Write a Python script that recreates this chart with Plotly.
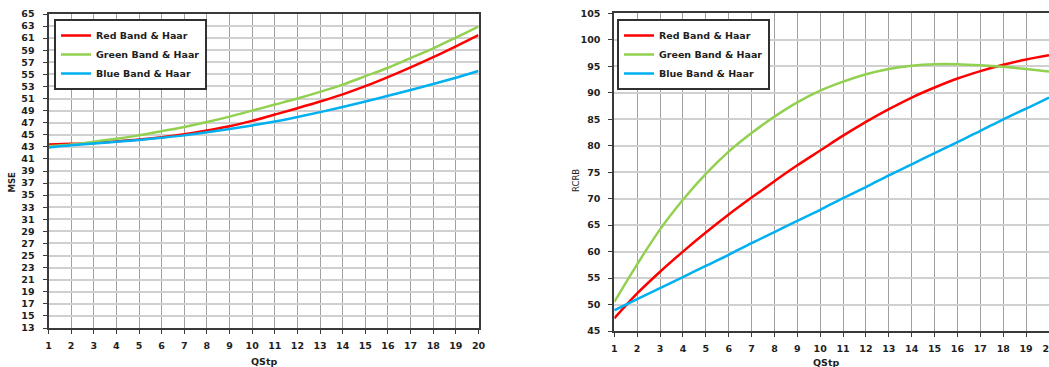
import plotly.graph_objects as go

# Quantisation step values shared by both panels
qstp = [1, 2, 3, 4, 5, 6, 7, 8, 9, 10, 11, 12, 13, 14, 15, 16, 17, 18, 19, 20]

series_names = ["Red Band & Haar", "Green Band & Haar", "Blue Band & Haar"]
series_colors = ["#ff0000", "#92d050", "#00b0f0"]

# Mean squared error per band
mse_red = [43.4, 43.5, 43.65, 43.9, 44.2, 44.6, 45.1, 45.7, 46.4, 47.3,
           48.35, 49.4, 50.5, 51.7, 53.05, 54.55, 56.15, 57.85, 59.65, 61.5]
mse_green = [43.1, 43.4, 43.85, 44.35, 44.9, 45.6, 46.3, 47.1, 48.0, 49.0,
             50.0, 51.0, 52.1, 53.3, 54.7, 56.1, 57.7, 59.3, 61.1, 62.9]
mse_blue = [42.9, 43.25, 43.55, 43.85, 44.15, 44.5, 44.9, 45.4, 45.95, 46.55,
            47.2, 47.95, 48.75, 49.6, 50.5, 51.45, 52.4, 53.4, 54.45, 55.55]

# RCRB per band
rcrb_red = [47.4, 52.1, 56.2, 60.0, 63.6, 67.0, 70.2, 73.3, 76.3, 79.1,
            81.9, 84.5, 86.9, 89.1, 91.0, 92.7, 94.1, 95.3, 96.3, 97.1]
rcrb_green = [50.5, 57.6, 64.2, 69.8, 74.7, 78.9, 82.4, 85.5, 88.2, 90.4,
              92.1, 93.5, 94.5, 95.1, 95.4, 95.4, 95.2, 94.9, 94.5, 94.0]
rcrb_blue = [48.9, 51.0, 53.1, 55.2, 57.3, 59.4, 61.6, 63.7, 65.8, 67.9,
             70.1, 72.2, 74.4, 76.5, 78.6, 80.7, 82.8, 85.0, 87.0, 89.1]

mse_series = [mse_red, mse_green, mse_blue]
rcrb_series = [rcrb_red, rcrb_green, rcrb_blue]

W, H = 1049, 367


def fx(px):
    return px / W


def fy(py):
    return 1 - py / H


TEXT = "#1e1e1e"
AXIS = "#3a3a3a"
FONT = "DejaVu Sans"
tick_font = dict(family=FONT, size=9.5, color=TEXT, weight="bold")
legend_font = dict(family=FONT, size=9.5, color=TEXT, weight="bold")

fig = go.Figure()

for name, color, vals in zip(series_names, series_colors, mse_series):
    fig.add_trace(go.Scatter(
        x=qstp, y=vals, name=name, mode="lines",
        line=dict(color=color, width=2.5, shape="spline"),
        xaxis="x", yaxis="y", legend="legend",
    ))

for name, color, vals in zip(series_names, series_colors, rcrb_series):
    fig.add_trace(go.Scatter(
        x=qstp, y=vals, name=name, mode="lines",
        line=dict(color=color, width=2.5, shape="spline"),
        xaxis="x2", yaxis="y2", legend="legend2",
    ))

common_x = dict(
    range=[1, 20], tickmode="array", tickvals=qstp,
    showgrid=True, gridcolor="#a0a0a0", gridwidth=1,
    showline=True, linecolor=AXIS, linewidth=2,
    ticks="outside", ticklen=4, tickwidth=1, tickcolor=AXIS,
    tickfont=tick_font, ticklabelstandoff=4, ticklabeloverflow="allow",
    zeroline=False, automargin=False, fixedrange=True,
)
common_y = dict(
    showgrid=True, gridcolor="#d0d0d0", gridwidth=1.5,
    showline=True, linecolor=AXIS, linewidth=2,
    ticks="outside", ticklen=4, tickwidth=1, tickcolor=AXIS,
    tickfont=tick_font, ticklabelstandoff=6,
    zeroline=False, automargin=False, fixedrange=True,
)

legend_style = dict(
    xanchor="left", yanchor="top",
    bgcolor="white", bordercolor="#303030", borderwidth=2,
    font=legend_font, traceorder="normal",
)

fig.update_layout(
    width=W, height=H, autosize=False,
    margin=dict(l=0, r=0, t=0, b=0),
    paper_bgcolor="white", plot_bgcolor="white",
    xaxis=dict(common_x, domain=[fx(48.5), fx(478.5)], anchor="y", mirror=True),
    yaxis=dict(common_y, domain=[fy(328), fy(14)], anchor="x", mirror=True,
               range=[13, 65], tick0=13, dtick=2),
    xaxis2=dict(common_x, domain=[fx(614.3), 1.0], anchor="y2", mirror=True),
    yaxis2=dict(common_y, domain=[fy(331), fy(13.4)], anchor="x2", mirror=False,
                range=[45, 105], tick0=45, dtick=5),
    legend=dict(legend_style, x=fx(54), y=fy(19)),
    legend2=dict(legend_style, x=fx(617), y=fy(19)),
    showlegend=True,
)

title_bold = dict(family=FONT, size=9.5, color=TEXT, weight="bold")
annotations = [
    dict(text="MSE", x=fx(11.5), y=fy(182), textangle=-90,
         font=dict(family=FONT, size=8.5, color=TEXT, weight="bold")),
    dict(text="QStp", x=fx(264), y=fy(361), font=title_bold),
    dict(text="RCRB", x=fx(576), y=fy(181), textangle=-90,
         font=dict(family=FONT, size=8.5, color=TEXT)),
    dict(text="QStp", x=fx(826), y=fy(362), font=title_bold),
]
for a in annotations:
    fig.add_annotation(xref="paper", yref="paper", showarrow=False,
                       xanchor="center", yanchor="middle", **a)

fig.write_html("out.html")
